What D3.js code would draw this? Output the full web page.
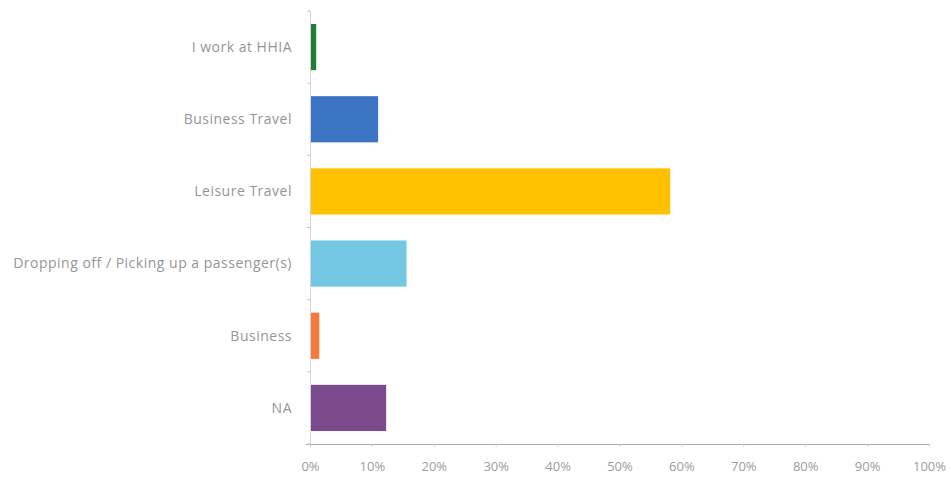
<!DOCTYPE html>
<html>
<head>
<meta charset="utf-8">
<script src="https://cdn.jsdelivr.net/npm/d3@7/dist/d3.min.js"></script>
<style>
  html, body { margin: 0; padding: 0; background: #fff; }
  svg text { font-family: "Open Sans", "DejaVu Sans", sans-serif; }
</style>
</head>
<body>
<svg id="chart" width="951" height="480"></svg>
<script>
// Reason for visit, share of respondents
const categories = ["I work at HHIA", "Business Travel", "Leisure Travel",
  "Dropping off / Picking up a passenger(s)", "Business", "NA"];
const shares = [0.01, 0.11, 0.582, 0.156, 0.015, 0.123];
const barColors = ["#1d8035", "#3a74c2", "#ffc000", "#73c7e3", "#f57a3b", "#7a4a8d"];
const tickValues = [0, 0.1, 0.2, 0.3, 0.4, 0.5, 0.6, 0.7, 0.8, 0.9, 1.0];

const svg = d3.select("#chart");
const plotLeft = 310, plotRight = 929, plotTop = 11, plotBottom = 444;

const x = d3.scaleLinear().domain([0, 1]).range([plotLeft, plotRight]);
const y = d3.scaleBand().domain(categories).range([plotTop, plotBottom]).paddingInner(0.36).paddingOuter(0.18);

// bars
svg.append("g").selectAll("rect")
  .data(categories)
  .join("rect")
  .attr("x", x(0))
  .attr("y", d => y(d))
  .attr("width", (d, i) => x(shares[i]) - x(0))
  .attr("height", y.bandwidth())
  .attr("fill", (d, i) => barColors[i]);

// x axis
const xAxis = svg.append("g")
  .attr("transform", `translate(0,${plotBottom})`)
  .call(d3.axisBottom(x).tickValues(tickValues).tickFormat(d3.format(".0%")).tickSize(3).tickPadding(15));
xAxis.select(".domain").attr("stroke", "#a8a8a8").attr("d", `M${plotLeft - 4},0.5H${plotRight}`);
xAxis.selectAll(".tick line").attr("stroke", "#cfcfcf");
xAxis.selectAll(".tick text").attr("fill", "#9c9c9c").attr("font-size", 13);

// y axis: tick marks sit on the band boundaries
const yAxisG = svg.append("g").attr("transform", `translate(${plotLeft},0)`);
yAxisG.append("line")
  .attr("x1", 0.5).attr("x2", 0.5).attr("y1", plotTop).attr("y2", plotBottom)
  .attr("stroke", "#d4d4d4");
const boundaries = d3.range(categories.length + 1).map(i => plotTop + i * y.step());
yAxisG.selectAll("line.tk")
  .data(boundaries)
  .join("line")
  .attr("class", "tk")
  .attr("x1", -3).attr("x2", 0.5)
  .attr("y1", d => d).attr("y2", d => d)
  .attr("stroke", "#c4c4c4");

// category labels
svg.append("g").selectAll("text")
  .data(categories)
  .join("text")
  .attr("x", 292)
  .attr("y", d => y(d) + y.bandwidth() / 2)
  .attr("dy", "0.35em")
  .attr("text-anchor", "end")
  .attr("font-size", 14)
  .attr("letter-spacing", 0.5)
  .attr("fill", "#959595")
  .text(d => d);
</script>
</body>
</html>
